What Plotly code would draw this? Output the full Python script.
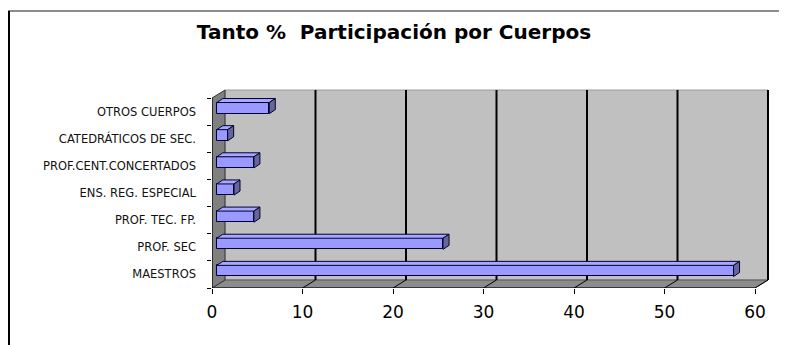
'''
    Horizontal "3D" bar chart: participation per teaching body (%).
'''
import plotly.graph_objects as go

categories = ["MAESTROS", "PROF. SEC", "PROF. TEC. FP.", "ENS. REG. ESPECIAL",
              "PROF.CENT.CONCERTADOS", "CATEDRÁTICOS DE SEC.", "OTROS CUERPOS"]
percentages = [57.1, 25.0, 4.1, 1.9, 4.1, 1.2, 5.8]
x_ticks = [0, 10, 20, 30, 40, 50, 60]

TITLE = "Tanto %\u00a0\u00a0Participación por Cuerpos"

# the page body adds an 8px margin, so everything is laid out 8px up/left
OFF = 8
W, H = 787, 345
ML, MR, MT, MB = 212 - OFF, 18 + OFF, 89 - OFF, 57 + OFF
PLOT_W = W - ML - MR
PLOT_H = H - MT - MB
X_UNIT = 9.05          # pixels per percentage point on the front plane
Y_UNIT = 27.14         # pixels per category
X_MAX = PLOT_W / X_UNIT
Y_MAX = -0.5 + PLOT_H / Y_UNIT

# depth of the "3D" box and of the bars (in data units)
DX, DY = 13 / X_UNIT, 8 / Y_UNIT
BAR_DX, BAR_DY = 4.8 / X_UNIT, 3.5 / Y_UNIT
CAP_DX, CAP_DY = 6 / X_UNIT, 4 / Y_UNIT
BAR_H = 0.41


def paper(px, py):
    '''Screen pixel position -> paper coordinates.'''
    px, py = px - OFF, py - OFF
    return (px - ML) / PLOT_W, (H - MB - py) / PLOT_H


def poly(points):
    return "M " + " L ".join(f"{x},{y}" for x, y in points) + " Z"


fig = go.Figure()

# front faces of the bars, on shifted overlay axes (bars sit at middle depth)
fig.add_trace(go.Bar(
    y=list(range(len(categories))), x=percentages, orientation="h",
    width=BAR_H, xaxis="x2", yaxis="y2",
    marker=dict(color="#9999FF", line=dict(color="#000033", width=1)),
    hoverinfo="skip", showlegend=False
))

# top faces and end caps
top_x, top_y, cap_x, cap_y = [], [], [], []
for i, v in enumerate(percentages):
    t = i + BAR_H / 2
    b = i - BAR_H / 2
    top_x += [0, v, v + CAP_DX, CAP_DX, 0, None]
    top_y += [t, t, t + CAP_DY, t + CAP_DY, t, None]
    cap_x += [v, v + CAP_DX, v + CAP_DX, v, v, None]
    cap_y += [b, b + CAP_DY, t + CAP_DY, t, b, None]

fig.add_trace(go.Scatter(
    x=top_x, y=top_y, xaxis="x2", yaxis="y2", mode="lines",
    fill="toself", fillcolor="#A8A8FF", line=dict(color="#000033", width=1),
    hoverinfo="skip", showlegend=False
))
fig.add_trace(go.Scatter(
    x=cap_x, y=cap_y, xaxis="x2", yaxis="y2", mode="lines",
    fill="toself", fillcolor="#666699", line=dict(color="#000033", width=1),
    hoverinfo="skip", showlegend=False
))

shapes = []
# back wall
shapes.append(dict(type="rect", xref="x", yref="y", layer="below",
                   x0=DX, x1=60 + DX, y0=-0.5 + DY, y1=6.5 + DY,
                   fillcolor="#C0C0C0", line=dict(color="#9a9a9a", width=1)))
shapes.append(dict(type="line", xref="x", yref="y", layer="below",
                   x0=60 + DX, x1=60 + DX, y0=-0.5 + DY, y1=6.5 + DY,
                   line=dict(color="#000000", width=2)))
# floor
shapes.append(dict(type="path", xref="x", yref="y", layer="below",
                   path=poly([(0, -0.5), (60, -0.5), (60 + DX, -0.5 + DY), (DX, -0.5 + DY)]),
                   fillcolor="#8C8C8C", line=dict(color="#555555", width=1)))
# side wall
shapes.append(dict(type="path", xref="x", yref="y", layer="below",
                   path=poly([(0, -0.5), (0, 6.5), (DX, 6.5 + DY), (DX, -0.5 + DY)]),
                   fillcolor="#808080", line=dict(color="#333333", width=1)))
# grid lines on back wall + slants on floor
for k in x_ticks[1:]:
    shapes.append(dict(type="line", xref="x", yref="y", layer="below",
                       x0=k + DX, x1=k + DX, y0=-0.5 + DY, y1=6.5 + DY,
                       line=dict(color="#000000", width=2)))
    shapes.append(dict(type="line", xref="x", yref="y", layer="below",
                       x0=k, x1=k + DX, y0=-0.5, y1=-0.5 + DY,
                       line=dict(color="#000000", width=1)))
# front axis lines
shapes.append(dict(type="line", xref="x", yref="y", x0=0, x1=60, y0=-0.5, y1=-0.5,
                   line=dict(color="#000000", width=1)))
shapes.append(dict(type="line", xref="x", yref="y", x0=0, x1=0, y0=-0.5, y1=6.5,
                   line=dict(color="#000000", width=1)))

# outer frame of the chart area (top and left only are visible)
x0, y0 = paper(7, 11)
x1, _ = paper(800, 11)
shapes.append(dict(type="line", xref="paper", yref="paper", x0=x0, x1=x1, y0=y0, y1=y0,
                   line=dict(color="#666666", width=1.5)))
lx, ly0 = paper(9, 11)
_, ly1 = paper(9, 360)
shapes.append(dict(type="line", xref="paper", yref="paper", x0=lx, x1=lx, y0=ly0, y1=ly1,
                   line=dict(color="#000000", width=2)))

fig.update_layout(
    width=W, height=H,
    margin=dict(l=ML, r=MR, t=MT, b=MB, autoexpand=False),
    paper_bgcolor="white", plot_bgcolor="white",
    shapes=shapes,
    title=dict(text=TITLE, x=(394 - OFF) / W, xanchor="center", y=1 - (32 - OFF) / H,
               yanchor="middle", yref="container",
               font=dict(family="DejaVu Sans", size=20, color="#000000", weight="bold")),
    xaxis=dict(range=[0, X_MAX], tickvals=x_ticks, ticks="outside", ticklen=5,
               tickcolor="#000000", showgrid=False, zeroline=False, showline=False,
               ticklabelstandoff=4,
               tickfont=dict(family="DejaVu Sans", size=17, color="#000000")),
    yaxis=dict(range=[-0.5, Y_MAX], tickvals=list(range(len(categories))),
               ticktext=categories, ticks="", showgrid=False, zeroline=False,
               showline=False, ticklabelstandoff=15,
               minor=dict(tickvals=[i - 0.5 for i in range(len(categories) + 1)],
                          ticks="outside", ticklen=4, tickcolor="#000000", showgrid=False),
               tickfont=dict(family="DejaVu Sans", size=11.5, color="#111111")),
    xaxis2=dict(overlaying="x", range=[-BAR_DX, X_MAX - BAR_DX], visible=False),
    yaxis2=dict(overlaying="y", range=[-0.5 - BAR_DY, Y_MAX - BAR_DY], visible=False),
    bargap=0,
)

fig.write_html("out.html")
